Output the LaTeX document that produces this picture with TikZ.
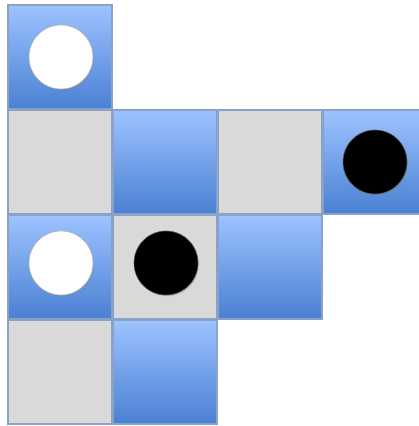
\documentclass[tikz,border=0pt]{standalone}
\usetikzlibrary{shadows}
\definecolor{bluetop}{HTML}{9DC3FF}
\definecolor{bluebot}{HTML}{4A80D2}
\definecolor{cellgray}{HTML}{D9D9D9}
\definecolor{edge}{HTML}{8AA2C8}
\tikzset{
  bluecell/.style={draw=edge, line width=1.2pt, top color=bluetop, bottom color=bluebot},
  graycell/.style={draw=edge, line width=1.2pt, fill=cellgray},
  whitestone/.style={circle, draw=gray!60, line width=0.6pt, fill=white, minimum size=64pt, inner sep=0pt,
     drop shadow={shadow xshift=0.8pt, shadow yshift=-1.2pt, opacity=0.35}},
  blackstone/.style={circle, draw=gray!70!black, line width=0.6pt, fill=black, minimum size=64pt, inner sep=0pt,
     drop shadow={shadow xshift=0.8pt, shadow yshift=-1.2pt, opacity=0.35}},
}
\begin{document}
\begin{tikzpicture}[x=1pt,y=-1pt]
\useasboundingbox (0,0) rectangle (419,426);
\fill[white] (0,0) rectangle (419,426);
% row 0
\path[bluecell] (8,5) rectangle (112,109);
% row 1
\path[graycell] (8,110) rectangle (112,214);
\path[bluecell] (113,110) rectangle (217,214);
\path[graycell] (218,110) rectangle (322,214);
\path[bluecell] (323,110) rectangle (427,214);
% row 2
\path[bluecell] (8,215) rectangle (112,319);
\path[graycell] (113,215) rectangle (217,319);
\path[bluecell] (218,215) rectangle (322,319);
% row 3
\path[graycell] (8,320) rectangle (112,424);
\path[bluecell] (113,320) rectangle (217,424);
% stones
\node[whitestone] (w1) at (61,57) {};
\node[whitestone] (w2) at (61,263) {};
\node[blackstone] (b1) at (166,263) {};
\node[blackstone] (b2) at (375,162) {};
\end{tikzpicture}
\end{document}
